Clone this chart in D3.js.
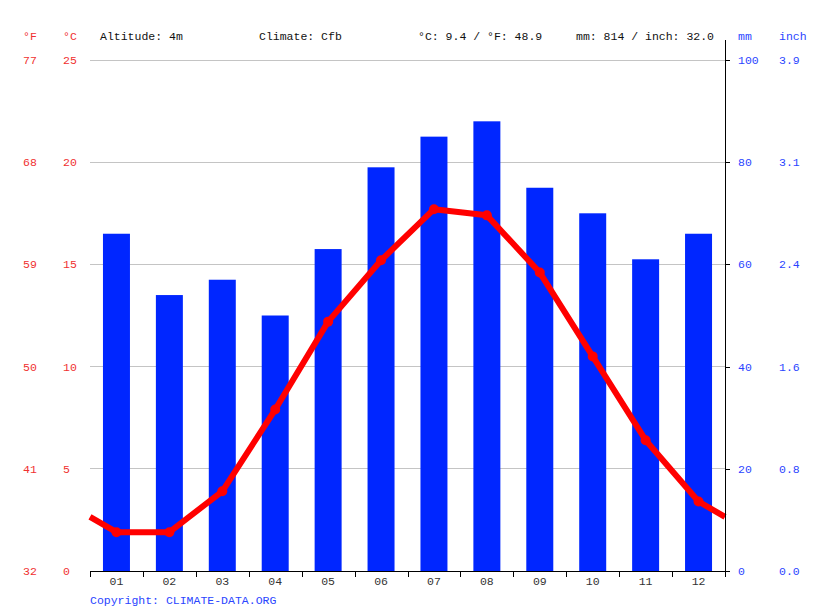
<!DOCTYPE html>
<html><head><meta charset="utf-8">
<script src="https://cdn.jsdelivr.net/npm/d3@7"></script>
<style>body{margin:0;background:#fff}svg{font-family:"Liberation Mono",monospace;font-size:11.5px}</style>
</head><body><svg id="c" width="815" height="611"></svg>
<script>
const months = ["01","02","03","04","05","06","07","08","09","10","11","12"];
const precipitation = [66,54,57,50,63,79,85,88,75,70,61,66];
const temperature = [1.9,1.9,3.9,7.9,12.2,15.2,17.7,17.4,14.6,10.5,6.4,3.4];
const celsiusTicks = [0,5,10,15,20,25];
const fahrenheitTicks = ["32","41","50","59","68","77"];
const mmTicks = [0,20,40,60,80,100];
const inchTicks = ["0.0","0.8","1.6","2.4","3.1","3.9"];
const headerTexts = ["Altitude: 4m","Climate: Cfb","°C: 9.4 / °F: 48.9","mm: 814 / inch: 32.0"];

const svg = d3.select("#c");
const L=90, R=725, T=60, B=571;
const x = d3.scaleBand().domain(months).range([L,R]).paddingInner(0.49).paddingOuter(0.245);
const xb = d3.scaleBand().domain(months).range([L,R]);
const yT = d3.scaleLinear().domain([0,25]).range([B,T]);
const yP = d3.scaleLinear().domain([0,100]).range([B,T]);
const red="#ff0000", blue="#0026ff", redTxt="#f03030", blueTxt="#2a45ff";

// grid
svg.append("g").selectAll("line").data(celsiusTicks.filter(d=>d>0)).join("line")
  .attr("x1",L).attr("x2",R).attr("y1",d=>yT(d)).attr("y2",d=>yT(d))
  .attr("stroke","#c4c4c4").attr("stroke-width",1).attr("shape-rendering","crispEdges");

// bars
svg.append("g").selectAll("rect").data(precipitation).join("rect")
  .attr("x",(d,i)=>x(months[i])).attr("width",x.bandwidth())
  .attr("y",d=>yP(d)).attr("height",d=>B-yP(d)).attr("fill",blue);

// temperature line, ends continue to chart edges at the Dec/Jan mean
const edge = (temperature[0]+temperature[11])/2;
const pts = [[L,edge]].concat(temperature.map((t,i)=>[xb(months[i])+xb.bandwidth()/2,t])).concat([[R,edge]]);
svg.append("path").datum(pts)
  .attr("d",d3.line().x(d=>d[0]).y(d=>yT(d[1])))
  .attr("fill","none").attr("stroke",red).attr("stroke-width",6).attr("stroke-linejoin","round");
svg.append("g").selectAll("circle").data(temperature).join("circle")
  .attr("cx",(d,i)=>xb(months[i])+xb.bandwidth()/2).attr("cy",d=>yT(d)).attr("r",5).attr("fill",red);

// x axis
const xAxis = svg.append("g").attr("transform",`translate(0,${B})`)
  .call(d3.axisBottom(xb).tickSize(0).tickPadding(6));
xAxis.select(".domain").remove();
xAxis.selectAll("text").attr("fill","#333").attr("font-family","Liberation Mono").attr("font-size",11.5);
svg.append("line").attr("x1",L).attr("x2",R+3).attr("y1",B+0.5).attr("y2",B+0.5).attr("stroke","#000");
svg.append("g").selectAll("line").data(months.map(m=>xb(m)).concat([R])).join("line")
  .attr("x1",d=>Math.round(d)+0.5).attr("x2",d=>Math.round(d)+0.5).attr("y1",B).attr("y2",B+6).attr("stroke","#000");

// right axis
svg.append("line").attr("x1",R+0.5).attr("x2",R+0.5).attr("y1",40).attr("y2",B+6).attr("stroke","#000");
svg.append("g").selectAll("line").data(mmTicks).join("line")
  .attr("x1",R).attr("x2",R+5).attr("y1",d=>Math.round(yP(d))+0.5).attr("y2",d=>Math.round(yP(d))+0.5).attr("stroke","#000");

// left labels
svg.append("g").selectAll("text").data(fahrenheitTicks).join("text")
  .attr("x",23).attr("y",(d,i)=>yT(celsiusTicks[i])+4).attr("fill",redTxt).text(d=>d);
svg.append("g").selectAll("text").data(celsiusTicks).join("text")
  .attr("x",63).attr("y",d=>yT(d)+4).attr("fill",redTxt).text(d=>d);
// right labels
svg.append("g").selectAll("text").data(mmTicks).join("text")
  .attr("x",738).attr("y",d=>yP(d)+4).attr("fill",blueTxt).text(d=>d);
svg.append("g").selectAll("text").data(inchTicks).join("text")
  .attr("x",779).attr("y",(d,i)=>yP(mmTicks[i])+4).attr("fill",blueTxt).text(d=>d);

// header
svg.append("text").attr("x",23).attr("y",40).attr("fill",redTxt).text("°F");
svg.append("text").attr("x",63).attr("y",40).attr("fill",redTxt).text("°C");
svg.append("text").attr("x",738).attr("y",40).attr("fill",blueTxt).text("mm");
svg.append("text").attr("x",779).attr("y",40).attr("fill",blueTxt).text("inch");
const hx=[100,259,418,576];
svg.append("g").selectAll("text").data(headerTexts).join("text")
  .attr("x",(d,i)=>hx[i]).attr("y",40).attr("fill","#111").text(d=>d);

svg.append("text").attr("x",90).attr("y",604).attr("fill",blueTxt).text("Copyright: CLIMATE-DATA.ORG");
</script></body></html>
